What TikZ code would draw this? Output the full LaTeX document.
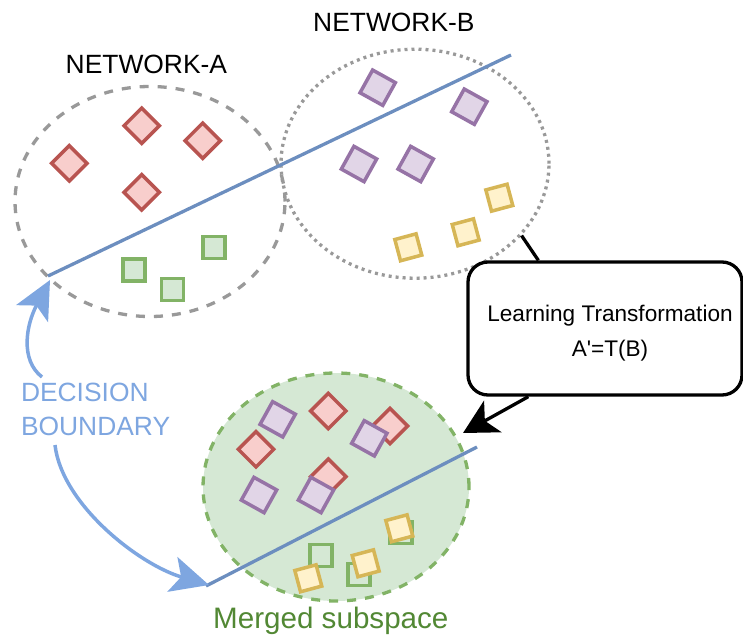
\documentclass[tikz,border=0pt]{standalone}
\usepackage{fontspec}
\newfontfamily\lab{Liberation Sans}[Ligatures=TeXOff]
\usetikzlibrary{arrows.meta,shapes.geometric}
\definecolor{redS}{HTML}{B85450}\definecolor{redF}{HTML}{F8CECC}
\definecolor{purS}{HTML}{9673A6}\definecolor{purF}{HTML}{E1D5E7}
\definecolor{yelS}{HTML}{D6B656}\definecolor{yelF}{HTML}{FFF2CC}
\definecolor{grnS}{HTML}{82B366}\definecolor{grnF}{HTML}{D5E8D4}
\definecolor{bluL}{HTML}{6C8EBF}\definecolor{bluA}{HTML}{7EA6E0}
\definecolor{gry}{HTML}{999999}
\definecolor{grnT}{RGB}{82,136,52}
\tikzset{
  ell/.style={ellipse, line width=3.3, inner sep=0},
  dia/.style={rectangle, draw=redS, fill=redF, line width=3.5, minimum size=25, inner sep=0, rotate=45},
  gsq/.style={rectangle, draw=grnS, fill=grnF, line width=3.5, minimum size=22, inner sep=0},
  psq/.style={rectangle, draw=purS, fill=purF, line width=3.5, minimum size=26, inner sep=0, rotate=-29},
  ysq/.style={rectangle, draw=yelS, fill=yelF, line width=3.5, minimum size=22, inner sep=0, rotate=15},
  bline/.style={draw=bluL, line width=3.3},
  barrow/.style={draw=bluA, line width=3.5, -{Stealth[length=38pt,width=36pt,inset=9pt]}},
  karrow/.style={draw=black, line width=3.3, -{Stealth[length=34pt,width=36pt,inset=9pt]}},
  bigtxt/.style={font=\lab\fontsize{26.4}{34}\selectfont, inner sep=0, anchor=base west},
}
\begin{document}
\begin{tikzpicture}[x=1pt,y=-1pt]
\useasboundingbox (0,0) rectangle (743,637);
% ellipses
\node[ell, draw=gry, dash pattern=on 9pt off 9pt, minimum width=270, minimum height=230] (eA) at (150,201.5) {};
\node[ell, draw=gry, dash pattern=on 3pt off 4pt, minimum width=268, minimum height=229] (eB) at (415,163.7) {};
\node[ell, draw=grnS, fill=grnF, dash pattern=on 9pt off 9pt, minimum width=266, minimum height=228] (eM) at (336,487) {};
% network A shapes
\node[dia] (a1) at (69.3,163.3) {};
\node[dia] (a2) at (141.7,125.7) {};
\node[dia] (a3) at (202.7,140.7) {};
\node[dia] (a4) at (141.7,192.3) {};
\node[gsq] (a5) at (134,270) {};
\node[gsq] (a6) at (172.5,289.5) {};
\node[gsq] (a7) at (214,247.5) {};
% network B shapes
\node[psq] (b1) at (377.7,87.7) {};
\node[psq] (b2) at (469.3,106.7) {};
\node[psq] (b3) at (359,164) {};
\node[psq] (b4) at (415.7,164) {};
\node[ysq] (b5) at (408.3,247.3) {};
\node[ysq] (b6) at (465.7,232.3) {};
\node[ysq] (b7) at (499.3,197.7) {};
% merged shapes
\node[dia] (m1) at (328.3,411) {};
\node[dia] (m2) at (390,426) {};
\node[dia] (m3) at (256,449.3) {};
\node[dia] (m4) at (328.3,476.7) {};
\node[psq] (m5) at (277.7,419.3) {};
\node[psq] (m6) at (369.3,438.3) {};
\node[psq] (m7) at (259,495) {};
\node[psq] (m8) at (316,495) {};
\node[gsq] (m9) at (320.8,555.5) {};
\node[gsq] (m10) at (359,574.7) {};
\node[gsq] (m11) at (400.8,532.5) {};
\node[ysq] (m12) at (308.3,578.3) {};
\node[ysq] (m13) at (365.7,563.3) {};
\node[ysq] (m14) at (399.3,528.3) {};
% decision boundaries
\coordinate (lA1) at (48,276);
\coordinate (lA2) at (511,55);
\coordinate (lM1) at (206,586);
\coordinate (lM2) at (477,447);
\draw[bline] (lA1) -- (lA2);
\draw[bline] (lM1) -- (lM2);
% labels
\node[bigtxt] (netA) at (65.5,73.3) {NETWORK-A};
\node[bigtxt] (netB) at (313,31.7) {NETWORK-B};
\node[bigtxt, text=bluA] (db1) at (20.8,401.7) {DECISION};
\node[bigtxt, text=bluA] (db2) at (20.8,435.7) {BOUNDARY};
\node[bigtxt, text=grnT, font=\lab\fontsize{29.6}{34}\selectfont] (merged) at (213,628.3) {Merged subspace};
% blue arrows
\coordinate (s1) at (42,377);
\coordinate (t1) at (50,280);
\coordinate (s2) at (55,445);
\coordinate (t2) at (209,585);
\draw[barrow] (s1) .. controls (20,360) and (26,325) .. (t1);
\draw[barrow] (s2) .. controls (62,505) and (140,565) .. (t2);
% transformation box
\node[draw, line width=3.3, rounded corners=20, minimum width=274, minimum height=133, fill=white, inner sep=0] (box) at (605,328.5) {};
\node[font=\lab\fontsize{22.6}{34.8}\selectfont, inner sep=0, anchor=base] (boxt1) at (610,321.7) {Learning Transformation};
\node[font=\lab\fontsize{22.6}{34.8}\selectfont, inner sep=0, anchor=base] (boxt2) at (610,356.5) {A'=T(B)};
\draw[line width=3.3] (eB.-34) -- ([xshift=72pt]box.north west);
\coordinate (tM) at (463,433);
\draw[karrow] ([xshift=62pt]box.south west) -- (tM);
\end{tikzpicture}
\end{document}
